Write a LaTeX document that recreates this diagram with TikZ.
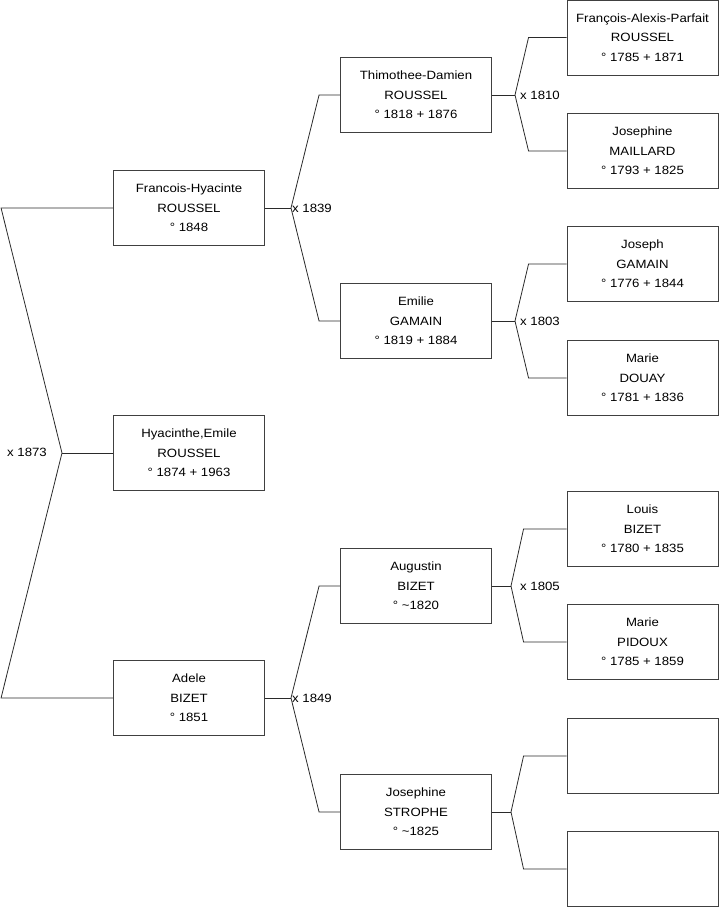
\documentclass[tikz,border=0pt]{standalone}
\usepackage{fontspec}
\setmainfont{Liberation Sans}[FakeStretch=1.1]
\usetikzlibrary{positioning, calc}
\definecolor{boxstroke}{HTML}{404040}
\definecolor{linkstroke}{HTML}{2A2A2A}

\begin{document}
\begin{tikzpicture}[
  x=1pt, y=-1pt,
  every node/.style={font=\fontsize{12}{19.5}\selectfont},
  person/.style={
    draw=boxstroke, line width=0.9pt, fill=white,
    minimum width=151pt, minimum height=75pt,
    inner sep=0pt, align=center
  },
  link/.style={draw=linkstroke, line width=0.8pt},
  mar/.style={anchor=west, inner sep=0pt}
]
\useasboundingbox (0,0) rectangle (719,908);

% generation 1
\node[person] (fh) at (189,208) {Francois-Hyacinte\\ROUSSEL\\° 1848};
\node[person] (hy) at (189,453) {Hyacinthe,Emile\\ROUSSEL\\° 1874 + 1963};
\node[person] (ad) at (189,698) {Adele\\BIZET\\° 1851};

% generation 2
\node[person] (td) at (416,95) {Thimothee-Damien\\ROUSSEL\\° 1818 + 1876};
\node[person] (em) at (416,321) {Emilie\\GAMAIN\\° 1819 + 1884};
\node[person] (au) at (416,586) {Augustin\\BIZET\\° \textasciitilde1820};
\node[person] (js) at (416,812) {Josephine\\STROPHE\\° \textasciitilde1825};

% generation 3
\node[person] (fa) at (642.5,37.5) {François-Alexis-Parfait\\ROUSSEL\\° 1785 + 1871};
\node[person] (jm) at (642.5,151) {Josephine\\MAILLARD\\° 1793 + 1825};
\node[person] (jg) at (642.5,264) {Joseph\\GAMAIN\\° 1776 + 1844};
\node[person] (md) at (642.5,378) {Marie\\DOUAY\\° 1781 + 1836};
\node[person] (lb) at (642.5,529) {Louis\\BIZET\\° 1780 + 1835};
\node[person] (mp) at (642.5,642) {Marie\\PIDOUX\\° 1785 + 1859};
\node[person] (ea) at (642.5,756) {};
\node[person] (eb) at (642.5,869) {};

% marriage points
\coordinate (m1873) at (62,453);
\coordinate (m1839) at (291,208);
\coordinate (m1849) at (291,698);
\coordinate (m1810) at (515,95);
\coordinate (m1803) at (515,321);
\coordinate (m1805) at (511,586);
\coordinate (mjs) at (511,812);

\node (l1873) at (27,452) {x 1873};
\node[mar] (l1839) at ([xshift=1pt]m1839) {x 1839};
\node[mar] (l1849) at ([xshift=1pt]m1849) {x 1849};
\node[mar] (l1810) at ([xshift=5pt]m1810) {x 1810};
\node[mar] (l1803) at ([xshift=5pt]m1803) {x 1803};
\node[mar] (l1805) at ([xshift=9pt]m1805) {x 1805};

\draw[link] (hy.west) -- (m1873);
\draw[link] (fh.west) -- ([xshift=-112pt]fh.west) -- (m1873)
  -- ([xshift=-112pt]ad.west) -- (ad.west);

\draw[link] (fh.east) -- (m1839);
\draw[link] (td.west) -- ([xshift=-21pt]td.west) -- (m1839)
  -- ([xshift=-21pt]em.west) -- (em.west);
\draw[link] (ad.east) -- (m1849);
\draw[link] (au.west) -- ([xshift=-21pt]au.west) -- (m1849)
  -- ([xshift=-21pt]js.west) -- (js.west);

\draw[link] (td.east) -- (m1810);
\draw[link] (fa.west) -- ([xshift=-38pt]fa.west) -- (m1810)
  -- ([xshift=-38pt]jm.west) -- (jm.west);
\draw[link] (em.east) -- (m1803);
\draw[link] (jg.west) -- ([xshift=-38pt]jg.west) -- (m1803)
  -- ([xshift=-38pt]md.west) -- (md.west);
\draw[link] (au.east) -- (m1805);
\draw[link] (lb.west) -- ([xshift=-43pt]lb.west) -- (m1805)
  -- ([xshift=-43pt]mp.west) -- (mp.west);
\draw[link] (js.east) -- (mjs);
\draw[link] (ea.west) -- ([xshift=-43pt]ea.west) -- (mjs)
  -- ([xshift=-43pt]eb.west) -- (eb.west);

\end{tikzpicture}
\end{document}
